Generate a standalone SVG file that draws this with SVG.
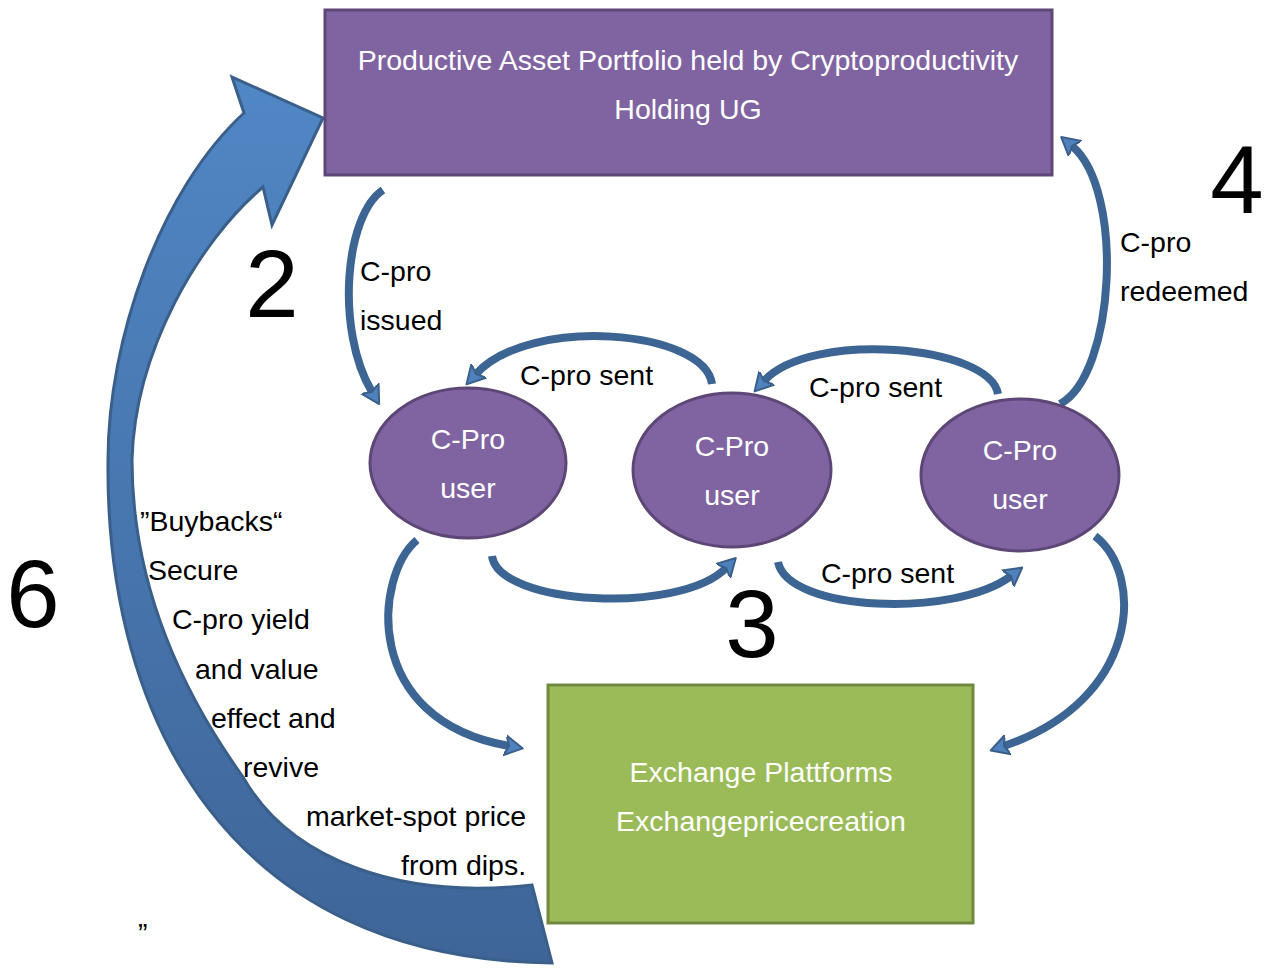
<svg xmlns="http://www.w3.org/2000/svg" width="1266" height="970" viewBox="0 0 1266 970">
<style>
.lbl{font-family:"Liberation Sans",Arial,sans-serif;font-size:28.5px;fill:#000}
.wt{font-family:"Liberation Sans",Arial,sans-serif;font-size:28.5px;fill:#fff;text-anchor:middle}
.num{font-family:"Liberation Sans",Arial,sans-serif;font-size:96px;fill:#000;text-anchor:middle}
.purple{fill:#8064A2;stroke:#5C4776;stroke-width:3}
.green{fill:#9BBB59;stroke:#71893F;stroke-width:3}
.conn{fill:none;stroke:#3D6594;stroke-width:8;marker-end:url(#ah)}
</style>
<defs>
<linearGradient id="bg" x1="0" y1="0" x2="0" y2="1">
<stop offset="0" stop-color="#5087C5"/>
<stop offset="1" stop-color="#3F6598"/>
</linearGradient>
<marker id="ah" viewBox="0 -12 20 24" refX="4" refY="0" markerWidth="20" markerHeight="24" orient="auto" markerUnits="userSpaceOnUse">
<path d="M0,-10 L18,0 L0,10 L4,0 Z" fill="#4F81BD" stroke="#3A5F8B" stroke-width="2" stroke-linejoin="round"/>
</marker>
</defs>
<rect width="1266" height="970" fill="#fff"/>

<g id="buyback-arrow">
<path d="M552,963 C230,960 105,720 108,460 C108,340 160,190 244,113 L232,77 L323,118 L272,225 L263,187 C200,240 135,350 132,460 C132,600 195,710 243,777 C290,860 400,900 532,885 Z" fill="url(#bg)" stroke="#3A5F8B" stroke-width="3" stroke-linejoin="miter"/>
</g>

<g id="connectors">
<path class="conn" d="M383,190 C345,215 335,330 372,392"/>
<path class="conn" d="M712,384 C705,330 530,315 476,374"/>
<path class="conn" d="M998,394 C990,345 810,330 764,381"/>
<path class="conn" d="M1060,404 C1115,375 1125,190 1072,146"/>
<path class="conn" d="M492,556 C498,605 680,615 726,568"/>
<path class="conn" d="M778,562 C788,612 955,618 1011,576"/>
<path class="conn" d="M417,540 C375,575 360,720 509,746"/>
<path class="conn" d="M1095,536 C1145,575 1140,700 1004,746"/>
</g>

<g id="portfolio">
<rect class="purple" x="325" y="10" width="727" height="165"/>
<text class="wt" x="688" y="70">Productive Asset Portfolio held by Cryptoproductivity</text>
<text class="wt" x="688" y="119">Holding UG</text>
</g>

<g id="user1">
<ellipse class="purple" cx="468" cy="463" rx="98" ry="75"/>
<text class="wt" x="468" y="449">C-Pro</text>
<text class="wt" x="468" y="498">user</text>
</g>
<g id="user2">
<ellipse class="purple" cx="732" cy="470" rx="99" ry="77"/>
<text class="wt" x="732" y="456">C-Pro</text>
<text class="wt" x="732" y="505">user</text>
</g>
<g id="user3">
<ellipse class="purple" cx="1020" cy="475" rx="99" ry="76"/>
<text class="wt" x="1020" y="460">C-Pro</text>
<text class="wt" x="1020" y="509">user</text>
</g>

<g id="exchange">
<rect class="green" x="548" y="685" width="425" height="238"/>
<text class="wt" x="761" y="782">Exchange Plattforms</text>
<text class="wt" x="761" y="831">Exchangepricecreation</text>
</g>

<g id="labels">
<text class="lbl" x="360" y="281">C-pro</text>
<text class="lbl" x="360" y="330">issued</text>
<text class="lbl" x="520" y="385">C-pro sent</text>
<text class="lbl" x="809" y="397">C-pro sent</text>
<text class="lbl" x="821" y="583">C-pro sent</text>
<text class="lbl" x="1120" y="252">C-pro</text>
<text class="lbl" x="1120" y="301">redeemed</text>
<text class="lbl" x="140" y="531">”Buybacks“</text>
<text class="lbl" x="148" y="580">Secure</text>
<text class="lbl" x="172" y="629">C-pro yield</text>
<text class="lbl" x="195" y="679">and value</text>
<text class="lbl" x="211" y="728">effect and</text>
<text class="lbl" x="243" y="777">revive</text>
<text class="lbl" x="306" y="826">market-spot price</text>
<text class="lbl" x="401" y="875">from dips.</text>
<text class="lbl" x="138" y="943">”</text>
<text class="num" x="272" y="317">2</text>
<text class="num" x="752" y="657">3</text>
<text class="num" x="1237" y="213">4</text>
<text class="num" x="33" y="627">6</text>
</g>
</svg>
